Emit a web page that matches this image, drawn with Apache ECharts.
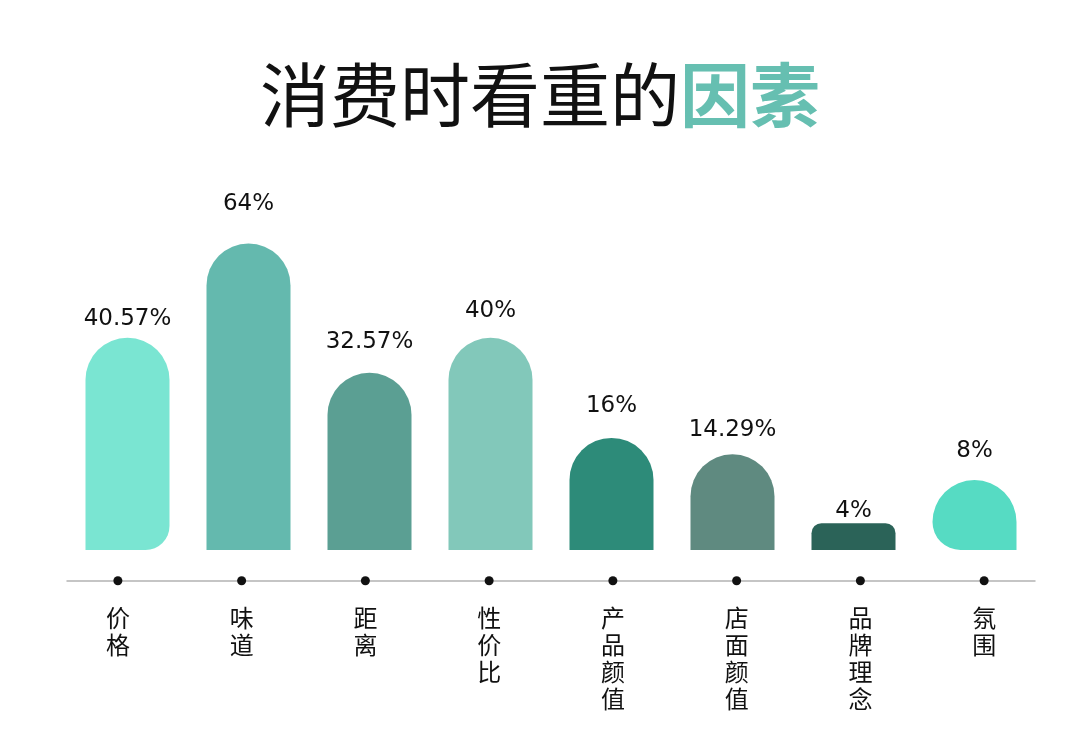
<!DOCTYPE html>
<html>
<head>
<meta charset="utf-8">
<script src="https://cdn.jsdelivr.net/npm/echarts@6/dist/echarts.min.js"></script>
<style>
html,body{margin:0;padding:0;background:#fff;}
#c{width:1080px;height:741px;}
</style>
</head>
<body>
<div id="c"></div>
<script>
// Categories (x axis)
const categories = ['价格', '味道', '距离', '性价比', '产品颜值', '店面颜值', '品牌理念', '氛围'];
// Percentages printed above each bar
const percentLabels = [40.57, 64, 32.57, 40, 16, 14.29, 4, 8];
// Bar lengths as drawn in the reference (same % scale as the tallest bar; the
// reference infographic does not draw bars proportionally to their labels)
const drawnHeights = [44.3, 64, 37.0, 44.3, 23.4, 20.0, 5.6, 14.6];
// Axis-dot baseline values
const dotValues = [0, 0, 0, 0, 0, 0, 0, 0];

// Styles
const barColors = ['#7ae5d2', '#64b9ae', '#5b9f93', '#82c8ba', '#2d8b79', '#5f8a80', '#2b6358', '#56dbc3'];
const barRadii = [[42,42,24,0],[42,42,0,0],[42,42,0,0],[42,42,0,0],[42,42,0,0],[42,42,0,0],[10,10,0,0],[42,42,0,28]];
const labelGaps = [7, 28, 19, 15, 20, 13, 1, 18];

const chart = echarts.init(document.getElementById('c'));
chart.setOption({
  backgroundColor: '#fff',
  animation: false,
  title: {
    left: 'center',
    top: 53,
    text: '{a|消费时看重的}{b|因素}',
    textStyle: {
      rich: {
        a: { fontSize: 70, lineHeight: 74, color: '#111', fontFamily: 'Noto Sans CJK SC', fontWeight: 'normal' },
        b: { fontSize: 70, lineHeight: 74, color: '#66bfb1', fontFamily: 'Noto Sans CJK SC', fontWeight: 'bold' }
      }
    }
  },
  grid: [
    { left: 67, width: 968, top: 71, bottom: 191 },
    { left: 56, width: 990, bottom: 160.3, height: 10 }
  ],
  xAxis: [
    {
      gridIndex: 0, type: 'category', data: categories,
      position: 'bottom',
      offset: 30.7,
      axisLine: { show: true, onZero: false, lineStyle: { color: '#b3b3b3', width: 1.5 } },
      axisTick: { show: false }, axisLabel: { show: false }
    },
    {
      gridIndex: 1, type: 'category', data: categories,
      axisLine: { show: false }, axisTick: { show: false },
      axisLabel: {
        margin: 24,
        fontSize: 24, lineHeight: 27, color: '#111',
        fontFamily: 'Noto Sans CJK SC',
        formatter: v => v.split('').join('\n')
      }
    }
  ],
  yAxis: [
    { gridIndex: 0, type: 'value', min: 0, max: 100, show: false },
    { gridIndex: 1, type: 'value', min: 0, max: 1, show: false }
  ],
  series: [
    {
      type: 'bar', xAxisIndex: 0, yAxisIndex: 0,
      barWidth: 84,
      data: drawnHeights.map((v, i) => ({
        value: v,
        itemStyle: { color: barColors[i], borderRadius: barRadii[i] },
        label: { distance: labelGaps[i] }
      })),
      label: {
        show: true, position: 'top',
        fontSize: 23, color: '#111', fontFamily: 'DejaVu Sans',
        formatter: p => percentLabels[p.dataIndex] + '%'
      }
    },
    {
      type: 'scatter', xAxisIndex: 1, yAxisIndex: 1,
      symbol: 'circle', symbolSize: 9,
      itemStyle: { color: '#111', opacity: 1 },
      data: dotValues,
      z: 5
    }
  ]
});
</script>
</body>
</html>
